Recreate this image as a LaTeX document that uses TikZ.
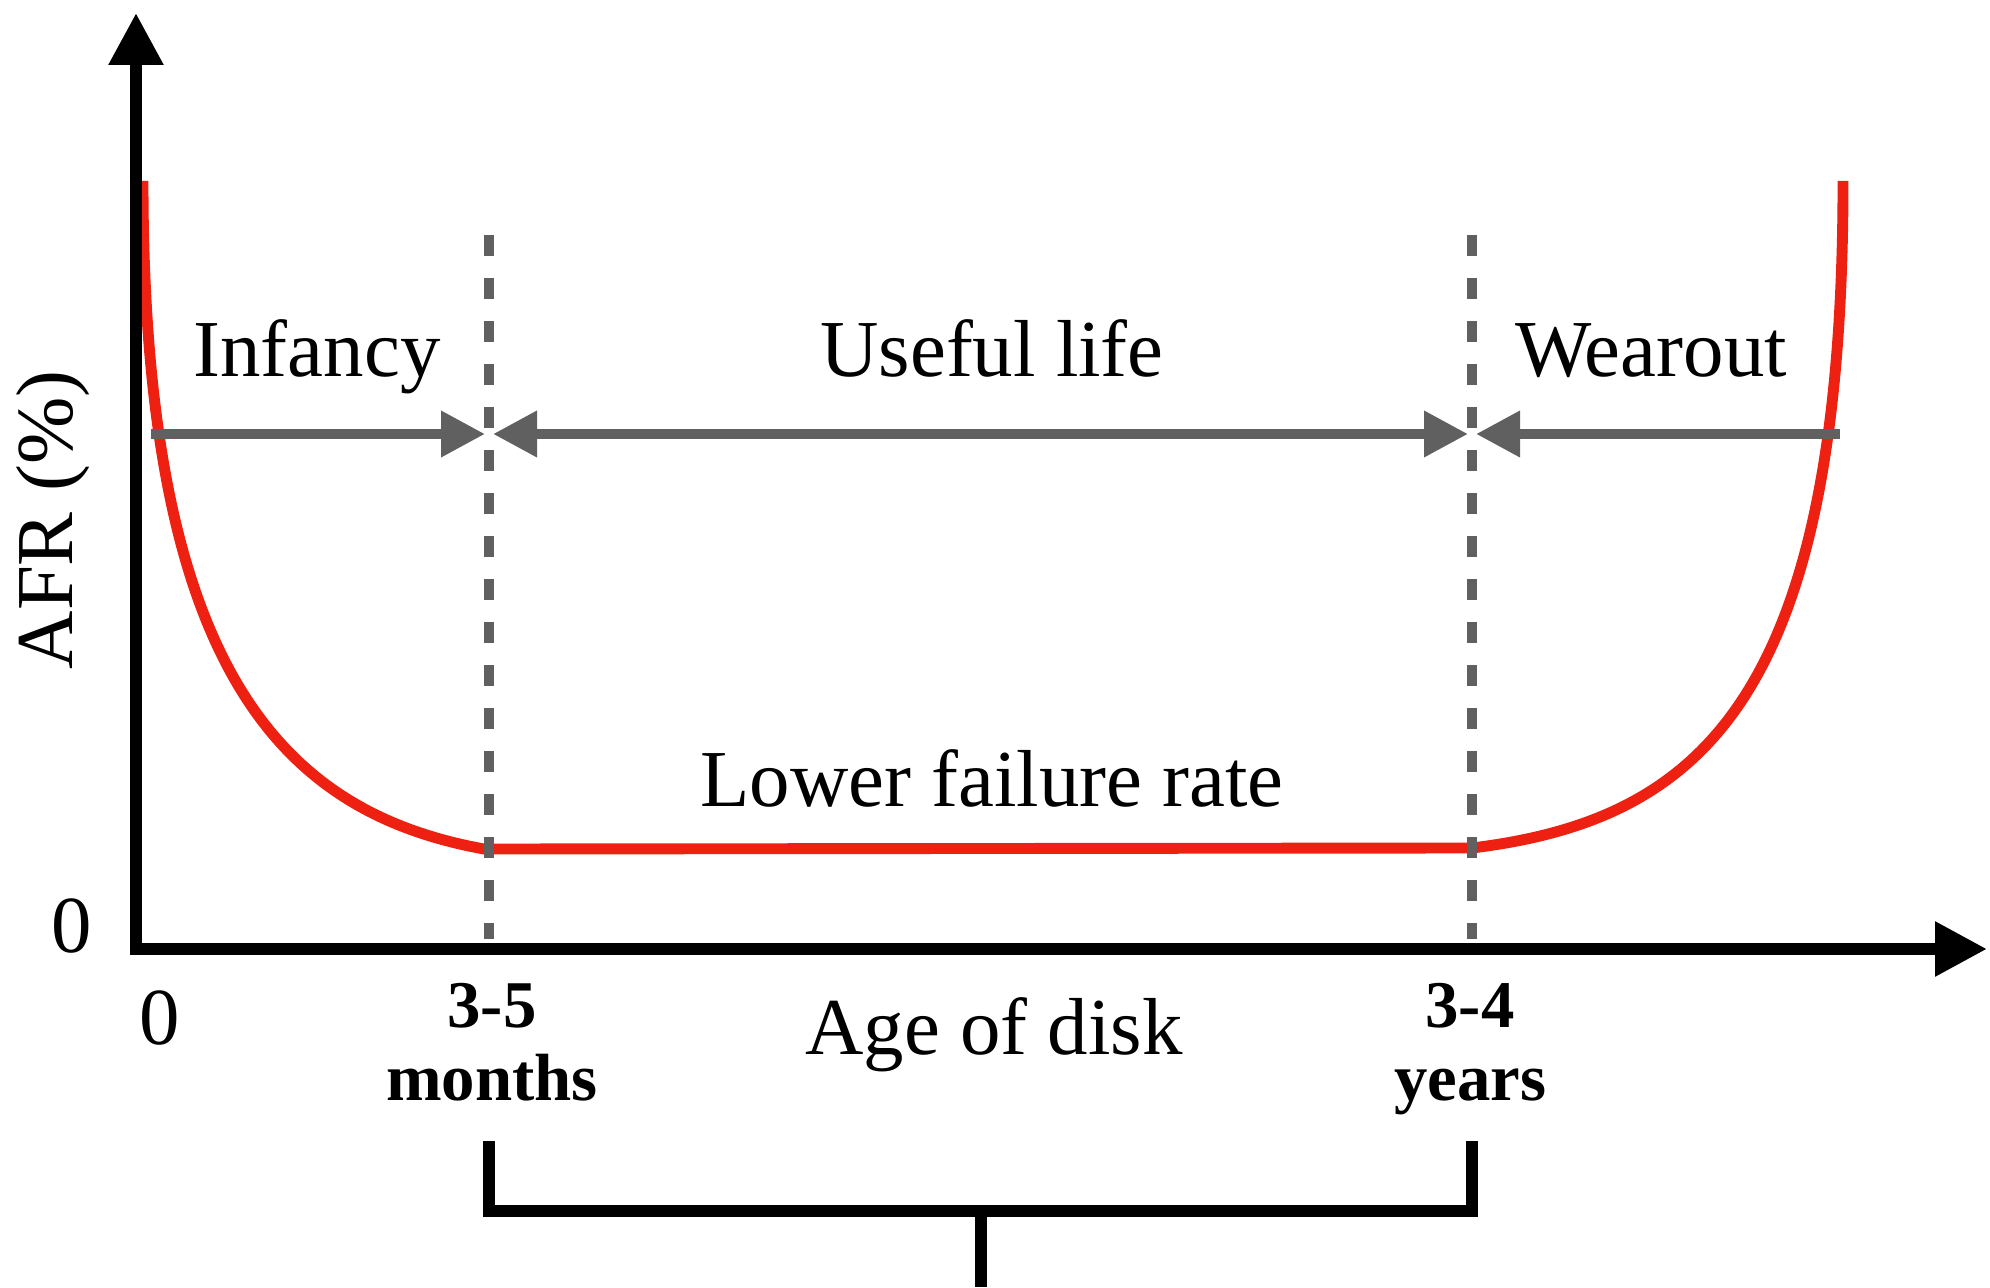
\documentclass[tikz,border=0pt]{standalone}
\usepackage{fontspec}
\setmainfont{Liberation Serif}
\usetikzlibrary{arrows.meta}
\definecolor{curvered}{RGB}{237,32,18}
\definecolor{phasegray}{RGB}{96,96,96}

\begin{document}
\begin{tikzpicture}[
	axisline/.style={line width=3.4pt, -{Triangle[length=0.52cm,width=0.52cm]}},
	phase/.style={phasegray, line width=2.85pt, dash pattern=on 0.21cm off 0.22cm},
	phasearrow/.style={phasegray, line width=2.85pt},
	lbl/.style={font=\fontsize{23}{25}\selectfont, inner sep=0pt, anchor=base},
	ticklbl/.style={font=\bfseries\fontsize{19}{20.7}\selectfont, inner sep=0pt, align=center, anchor=base},
	brace/.style={line width=3.4pt, line join=miter}
]
	\useasboundingbox (0,0) rectangle (19.90,12.87);
	\def\tip{Triangle[length=0.44cm,width=0.44cm]}
	\coordinate (O) at (1.36,3.38);
	\coordinate (ytip) at (1.36,12.74);
	\coordinate (xtip) at (19.87,3.38);
	\coordinate (mtop) at (4.89,10.52);
	\coordinate (mbot) at (4.89,3.48);
	\coordinate (ytop) at (14.72,10.52);
	\coordinate (ybot) at (14.72,3.48);
	\coordinate (a0) at (1.51,8.53);
	\coordinate (a1) at (4.89,8.53);
	\coordinate (a2) at (14.72,8.53);
	\coordinate (a3) at (18.40,8.53);

	\draw[curvered, line width=3.1pt] (1.43,11.06) .. controls (1.43,6.2) and (2.8,4.75) .. (4.84,4.38)
		-- (14.72,4.39) .. controls (17.0,4.67) and (18.43,5.87) .. (18.43,11.06);

	\draw[phase] (mtop) -- (mbot);
	\draw[phase] (ytop) -- (ybot);
	\draw[phasearrow, -{\tip}] (a0) -- ([xshift=-0.04cm]a1);
	\draw[phasearrow, {\tip}-{\tip}] ([xshift=0.04cm]a1) -- ([xshift=-0.04cm]a2);
	\draw[phasearrow, {\tip}-] ([xshift=0.04cm]a2) -- (a3);

	\draw[axisline] ([yshift=-0.06cm]O) -- (ytip);
	\draw[axisline] ([xshift=-0.06cm]O) -- (xtip);

	\node[lbl] (infancy) at (3.17,9.10) {Infancy};
	\node[lbl] (useful) at (9.92,9.10) {Useful life};
	\node[lbl] (wearout) at (16.51,9.10) {Wearout};
	\node[lbl] (lower) at (9.92,4.81) {Lower failure rate};
	\node[lbl] (age) at (9.94,2.33) {Age of disk};
	\node[lbl] (yzero) at (0.72,3.35) {0};
	\node[lbl] (xzero) at (1.60,2.43) {0};
	\node[lbl, anchor=center, rotate=90] (afr) at (0.53,7.67) {AFR (\%)};
	\node[ticklbl] (months) at (4.92,1.87) {3-5\\months};
	\node[ticklbl] (years) at (14.70,1.87) {3-4\\years};

	\coordinate (bl) at (4.89,1.46);
	\coordinate (br) at (14.72,1.46);
	\coordinate (stem) at (9.81,0.76);
	\draw[brace] (bl) |- (br |- stem) -- (br);
	\draw[brace] (stem) -- (9.81,0);
\end{tikzpicture}
\end{document}
